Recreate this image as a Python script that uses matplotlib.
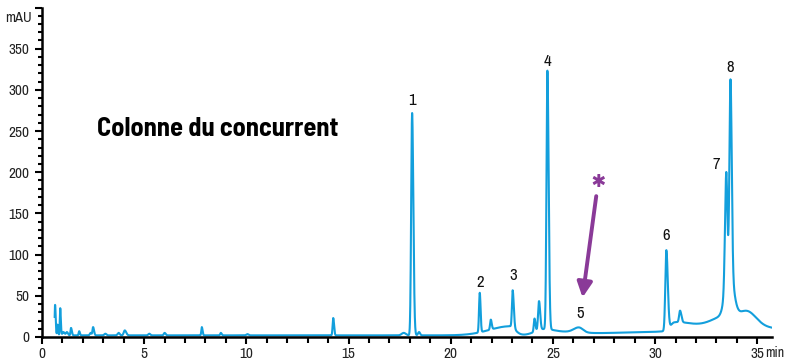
import numpy as np
import matplotlib
matplotlib.use("Agg")
import matplotlib.pyplot as plt
from matplotlib.ticker import MultipleLocator

plt.rcParams['font.family'] = ['Archivo Narrow', 'Liberation Sans', 'DejaVu Sans']
bold_family = ['Barlow Semi Condensed', 'Liberation Sans', 'DejaVu Sans']

# peak table: retention time (min), height (mAU), left sigma, right sigma
peak_time = [0.64, 0.76, 0.89, 1.05, 1.22, 1.42, 1.82, 2.38, 2.50, 3.10, 3.75,
             4.05, 5.25, 6.00, 7.82, 8.75, 10.05, 14.25, 17.70,
             18.11, 18.45, 22.90, 21.42, 21.96, 23.03, 24.10, 24.32, 24.50,
             24.73, 25.60, 26.27, 28.60, 30.55, 30.95, 31.22, 33.80, 33.50,
             33.62, 33.48, 33.69, 34.48]
peak_height = [37, 13, 33, 4, 4, 9, 5, 3, 10, 2, 3,
               6, 2, 3, 10, 3, 1.5, 21, 3,
               270, 4, 11, 48, 12, 45, 16, 35, 6,
               314, 3, 6, 3, 97, 10, 14, 12, 12,
               60, 128, 228, 18]
peak_sl = [0.02, 0.02, 0.02, 0.05, 0.05, 0.025, 0.025, 0.04, 0.03, 0.05, 0.05,
           0.05, 0.05, 0.04, 0.025, 0.03, 0.05, 0.03, 0.1,
           0.045, 0.05, 1.0, 0.035, 0.035, 0.035, 0.035, 0.045, 0.4,
           0.045, 0.8, 0.25, 2.0, 0.05, 0.2, 0.045, 2.0, 0.7,
           0.18, 0.06, 0.05, 0.45]
peak_sr = [0.03, 0.03, 0.03, 0.05, 0.05, 0.04, 0.035, 0.04, 0.045, 0.05, 0.05,
           0.07, 0.05, 0.05, 0.035, 0.04, 0.05, 0.04, 0.1,
           0.06, 0.05, 0.25, 0.04, 0.045, 0.055, 0.045, 0.055, 0.5,
           0.06, 0.8, 0.2, 2.0, 0.07, 0.8, 0.065, 2.5, 0.35,
           0.2, 0.05, 0.06, 0.45]
baseline = 2.0

# numbered peak labels (time, y position of label)
label_text = ['1', '2', '3', '4', '5', '6', '7', '8']
label_time = [18.10, 21.43, 23.05, 24.72, 26.35, 30.55, 32.97, 33.66]
label_y = [287, 66, 75, 334, 28, 123, 210, 327]

t = np.arange(0.62, 35.72, 0.004)
signal = np.full_like(t, baseline)
for tr, h, sl, sr in zip(peak_time, peak_height, peak_sl, peak_sr):
    s = np.where(t < tr, sl, sr)
    signal += h * np.exp(-0.5 * ((t - tr) / s) ** 2)

fig = plt.figure(figsize=(7.85, 3.62), dpi=100)
ax = fig.add_axes([42 / 785, 25 / 362, 730 / 785, 329.5 / 362])

ax.plot(t, signal, color='#139fdc', lw=1.5, solid_joinstyle='round')

ax.set_xlim(0, 35.72)
ax.set_ylim(0, 400)
for side in ['top', 'right']:
    ax.spines[side].set_visible(False)
for side in ['left', 'bottom']:
    ax.spines[side].set_linewidth(1.8)

ax.xaxis.set_major_locator(MultipleLocator(5))
ax.xaxis.set_minor_locator(MultipleLocator(1))
ax.yaxis.set_minor_locator(MultipleLocator(10))
ax.set_yticks(np.arange(0, 401, 50))
ax.set_yticklabels([str(v) for v in range(0, 351, 50)] + [''])
ax.tick_params(axis='both', which='major', length=5, width=1.5, labelsize=11,
               colors='black', labelcolor='#222222')
ax.tick_params(axis='x', which='major', pad=2)
ax.tick_params(axis='y', which='major', pad=4)
ax.tick_params(axis='y', which='minor', length=3, width=1.5)
ax.tick_params(axis='x', which='minor', length=4, width=1.5)

fig.text(32 / 785, 1 - 18 / 362, 'mAU', ha='right', va='center', fontsize=10.5, color='#222222')
fig.text(784 / 785, 1 - 353 / 362, 'min', ha='right', va='center', fontsize=10, color='#222222')

for txt, x, y in zip(label_text, label_time, label_y):
    ax.text(x, y, txt, ha='center', va='center', fontsize=12, color='#111111')

ax.text(2.7, 253, 'Colonne du concurrent', ha='left', va='center',
        fontsize=19, fontweight='bold', family=bold_family, color='black')

purple = '#8a3a98'
ax.annotate('', xy=(26.45, 48), xytext=(27.12, 171),
            arrowprops=dict(arrowstyle='-|>,head_length=0.9,head_width=0.45',
                            color=purple, lw=2.8, shrinkA=0, shrinkB=0))
ax.text(27.22, 176, '*', ha='center', va='center', fontsize=26, fontweight='bold',
        family=bold_family, color=purple)

fig.savefig('out.png', dpi=100)
